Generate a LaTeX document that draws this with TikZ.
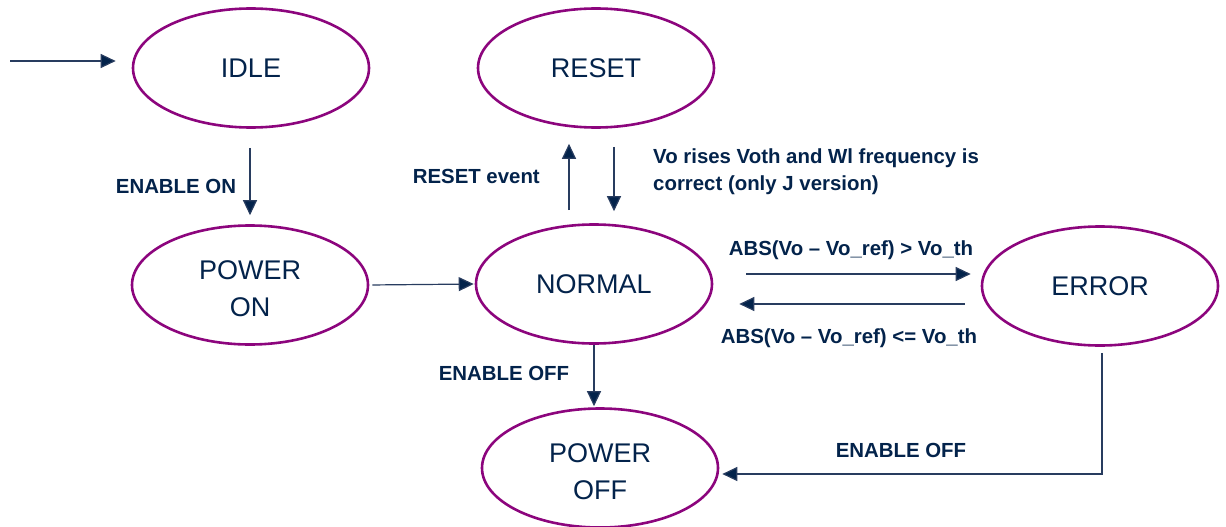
\documentclass[tikz,border=0pt]{standalone}
\usepackage{fontspec}
\setmainfont{Liberation Sans}
\usetikzlibrary{shapes.geometric,arrows.meta}
\definecolor{statepurple}{RGB}{140,5,125}
\definecolor{navy}{RGB}{3,35,75}
\definecolor{wireblue}{RGB}{40,60,95}
\tikzset{
  state/.style={ellipse, draw=statepurple, line width=2.6pt, fill=white,
    minimum width=236pt, minimum height=119pt, inner sep=0pt,
    text=navy, font=\fontsize{27}{37}\selectfont, align=center},
  statetext/.style={text=navy, font=\fontsize{27}{37}\selectfont,
    align=center, inner sep=0pt},
  arr/.style={draw=wireblue, line width=1.2pt,
    -{Triangle[length=15pt,width=14pt,fill=navy]}},
  lbl/.style={text=navy, font=\fontsize{20.4}{27}\selectfont\bfseries,
    inner sep=0pt},
}
\begin{document}
\begin{tikzpicture}[x=1pt,y=-1pt]
  \useasboundingbox (0,0) rectangle (1226,527);

  % states
  \node[state] (idle)   at (251,68)  {IDLE};
  \node[state] (reset)  at (596,68)  {RESET};
  \node[state] (pon)    at (250,285) {};
  \node[statetext] (pont) at ([yshift=-4pt]pon.center) {POWER\\ON};
  \node[state] (normal) at (594,284) {NORMAL};
  \node[state] (error)  at (1100,286) {ERROR};
  \node[state] (poff)   at (600,468) {};
  \node[statetext] (pofft) at ([yshift=-4pt]poff.center) {POWER\\OFF};

  % initial transition
  \coordinate (init) at (10,61);
  \draw[arr, shorten >=16pt] (init) -- (init -| idle.west);

  % transitions
  \draw[arr, shorten <=19pt, shorten >=9pt]
    (pon.north |- idle.south) -- (pon.north);
  \draw[arr, shorten <=3pt, shorten >=1pt] (pon.east) -- (normal.west);
  \draw[arr, shorten <=13pt, shorten >=15pt]
    ([xshift=-25pt]normal.north) -- ([xshift=-25pt]normal.north |- reset.south);
  \draw[arr, shorten <=18pt, shorten >=12pt]
    ([xshift=18pt]reset.south) -- ([xshift=18pt]reset.south |- normal.north);
  \draw[arr, shorten <=33pt, shorten >=10pt]
    ([yshift=10pt]normal.east) -- ([yshift=10pt]normal.east -| error.west);
  \draw[arr, shorten <=16pt, shorten >=26pt]
    ([yshift=-18pt]error.west) -- ([yshift=-18pt]error.west -| normal.east);
  \draw[arr, shorten >=1pt] (normal.south) -- (normal.south |- poff.north);
  \draw[arr, shorten <=6pt, shorten >=3pt]
    ([xshift=2pt]error.south) |- ([yshift=-6pt]poff.east);

  % transition labels
  \node[lbl] (lon)    at (176,186) {ENABLE ON};
  \node[lbl, anchor=east] (lreset) at (540,176) {RESET event};
  \node[lbl, anchor=west, align=left] (lvo) at (653,172)
    {Vo rises Voth and Wl frequency is\\correct (only J version)};
  \node[lbl] (lgt)    at (851,250) {ABS(Vo – Vo\_ref) > Vo\_th};
  \node[lbl] (lle)    at (849,338) {ABS(Vo – Vo\_ref) <= Vo\_th};
  \node[lbl] (loff1)  at (504,373) {ENABLE OFF};
  \node[lbl] (loff2)  at (901,450) {ENABLE OFF};
\end{tikzpicture}
\end{document}
